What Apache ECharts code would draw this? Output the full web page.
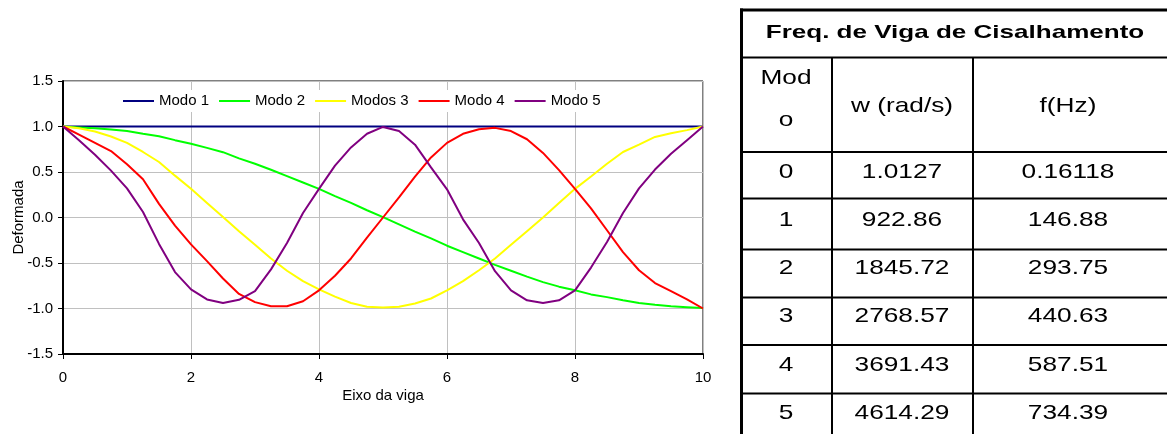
<!DOCTYPE html>
<html>
<head>
<meta charset="utf-8">
<script src="https://cdn.jsdelivr.net/npm/echarts@6/dist/echarts.min.js"></script>
<style>
  html, body { margin: 0; padding: 0; background: #fff; }
  #chart { width: 1167px; height: 434px; }
</style>
</head>
<body>
<div id="chart"></div>
<script>
// posicoes ao longo da viga
const xs = [0, 0.25, 0.5, 0.75, 1, 1.25, 1.5, 1.75, 2, 2.25, 2.5, 2.75, 3, 3.25, 3.5, 3.75, 4, 4.25, 4.5, 4.75,
  5, 5.25, 5.5, 5.75, 6, 6.25, 6.5, 6.75, 7, 7.25, 7.5, 7.75, 8, 8.25, 8.5, 8.75, 9, 9.25, 9.5, 9.75, 10]

const modo1 = [1, 1, 1, 1, 1, 1, 1, 1, 1, 1, 1, 1, 1, 1, 1, 1, 1, 1, 1, 1,
  1, 1, 1, 1, 1, 1, 1, 1, 1, 1, 1, 1, 1, 1, 1, 1, 1, 1, 1, 1, 1]
const modo2 = [1.0, 0.99, 0.98, 0.967, 0.95, 0.92, 0.893, 0.85, 0.81, 0.765, 0.718, 0.65, 0.59, 0.525, 0.455, 0.385, 0.315, 0.235, 0.16, 0.08,
  0.005, -0.075, -0.155, -0.23, -0.31, -0.38, -0.45, -0.52, -0.585, -0.65, -0.71, -0.76, -0.8, -0.845, -0.875, -0.91, -0.94, -0.96, -0.975, -0.985, -0.995]
const modo3 = [1.0, 0.98, 0.945, 0.89, 0.82, 0.72, 0.61, 0.46, 0.315, 0.16, 0.005, -0.15, -0.3, -0.45, -0.585, -0.7, -0.79, -0.87, -0.94, -0.98,
  -0.99, -0.98, -0.945, -0.89, -0.8, -0.7, -0.58, -0.45, -0.3, -0.15, 0.0, 0.16, 0.315, 0.45, 0.59, 0.72, 0.8, 0.885, 0.925, 0.96, 1.0]
const modo4 = [1.0, 0.91, 0.82, 0.73, 0.585, 0.42, 0.15, -0.09, -0.295, -0.48, -0.67, -0.84, -0.93, -0.975, -0.975, -0.92, -0.8, -0.64, -0.45, -0.22,
  0.0, 0.22, 0.45, 0.66, 0.82, 0.92, 0.97, 0.985, 0.95, 0.86, 0.71, 0.52, 0.315, 0.1, -0.14, -0.38, -0.58, -0.72, -0.81, -0.9, -1.0]
const modo5 = [1.0, 0.85, 0.69, 0.515, 0.32, 0.06, -0.29, -0.6, -0.79, -0.9, -0.94, -0.905, -0.81, -0.57, -0.28, 0.05, 0.315, 0.57, 0.77, 0.92,
  0.995, 0.95, 0.8, 0.55, 0.31, -0.02, -0.28, -0.59, -0.8, -0.91, -0.94, -0.91, -0.8, -0.55, -0.27, 0.05, 0.32, 0.527, 0.7, 0.85, 1.0]

const seriesNames = ['Modo 1', 'Modo 2', 'Modos 3', 'Modo 4', 'Modo 5']
const seriesColors = ['#000080', '#00ff00', '#ffff00', '#ff0000', '#800080']

// tabela de frequencias
const tableTitle = 'Freq. de Viga de Cisalhamento'
const tableHeader = ['w (rad/s)', 'f(Hz)']
const tableModos = ['0', '1', '2', '3', '4', '5']
const tableW = ['1.0127', '922.86', '1845.72', '2768.57', '3691.43', '4614.29']
const tableF = ['0.16118', '146.88', '293.75', '440.63', '587.51', '734.39']

const fontFamily = '"Liberation Sans", Arial, sans-serif'

function pairs (ys) {
  return xs.map(function (x, i) { return [x, ys[i]] })
}

function hLine (y, x1, x2, w) {
  return { type: 'line', shape: { x1: x1, y1: y, x2: x2, y2: y }, style: { stroke: '#000', lineWidth: w }, z: 10 }
}
function vLine (x, y1, y2, w) {
  return { type: 'line', shape: { x1: x, y1: y1, x2: x, y2: y2 }, style: { stroke: '#000', lineWidth: w }, z: 10 }
}
function cellText (txt, x, y, bold) {
  return {
    type: 'text',
    x: x,
    y: y,
    scaleX: bold ? 1.37 : 1.25,
    z: 10,
    style: {
      text: txt,
      font: (bold ? 'bold 19px ' : '21px ') + fontFamily,
      fill: '#000',
      align: 'center',
      verticalAlign: 'middle'
    }
  }
}

// desenho da tabela
const rowLines = [152, 198.5, 249.5, 297.5, 345, 393.5]
const colCenter = [786, 902, 1068]
const graphics = [
  vLine(741.5, 8.5, 434, 3),
  hLine(10, 740, 1167, 3),
  hLine(57.5, 741, 1167, 2),
  vLine(832, 57.5, 434, 2),
  vLine(973, 57.5, 434, 2),
  cellText(tableTitle, 955, 33, true),
  cellText('Mod', colCenter[0], 78, false),
  cellText('o', colCenter[0], 120, false),
  cellText(tableHeader[0], colCenter[1], 106, false),
  cellText(tableHeader[1], colCenter[2], 106, false)
]
rowLines.forEach(function (y) { graphics.push(hLine(y, 741, 1167, 2)) })
tableModos.forEach(function (m, i) {
  const y = 172 + i * 48.2
  graphics.push(cellText(m, colCenter[0], y, false))
  graphics.push(cellText(tableW[i], colCenter[1], y, false))
  graphics.push(cellText(tableF[i], colCenter[2], y, false))
})

const allData = [modo1, modo2, modo3, modo4, modo5]

const option = {
  animation: false,
  textStyle: { fontFamily: fontFamily },
  grid: {
    left: 63,
    right: 464,
    top: 81,
    bottom: 80,
    outerBoundsMode: 'none',
    show: true,
    borderColor: '#000',
    borderWidth: 1
  },
  legend: {
    data: seriesNames,
    top: 90,
    left: 119,
    padding: [3, 4, 3, 4],
    backgroundColor: '#fff',
    icon: 'rect',
    itemWidth: 31,
    itemHeight: 2,
    itemGap: 10,
    selectedMode: false,
    textStyle: { fontSize: 15, color: '#000', fontFamily: fontFamily, lineHeight: 16 }
  },
  xAxis: {
    type: 'value',
    min: 0,
    max: 10,
    interval: 2,
    name: 'Eixo da viga',
    nameLocation: 'middle',
    nameGap: 34,
    nameMoveOverlap: false,
    nameTextStyle: { fontSize: 15, color: '#000' },
    axisLine: { onZero: false, lineStyle: { color: '#000', width: 2 } },
    axisTick: { length: 5, lineStyle: { color: '#000', width: 1 } },
    axisLabel: { fontSize: 15, color: '#000', margin: 16 },
    splitLine: { show: true, lineStyle: { color: '#c0c0c0', width: 1 } }
  },
  yAxis: {
    type: 'value',
    min: -1.5,
    max: 1.5,
    interval: 0.5,
    name: 'Deformada',
    nameLocation: 'middle',
    nameGap: 37,
    nameMoveOverlap: false,
    nameTextStyle: { fontSize: 15, color: '#000' },
    axisLine: { show: true, onZero: false, lineStyle: { color: '#000', width: 2 } },
    axisTick: { show: true, length: 5, lineStyle: { color: '#000', width: 1 } },
    axisLabel: {
      fontSize: 15,
      color: '#000',
      margin: 10,
      formatter: function (v) { return v.toFixed(1) }
    },
    splitLine: { show: true, lineStyle: { color: '#c0c0c0', width: 1 } }
  },
  series: seriesNames.map(function (name, i) {
    return {
      name: name,
      type: 'line',
      data: pairs(allData[i]),
      symbol: 'none',
      color: seriesColors[i],
      lineStyle: { color: seriesColors[i], width: 2 }
    }
  }),
  graphic: graphics
}

const myChart = echarts.init(document.getElementById('chart'))
myChart.setOption(option)
window.addEventListener('resize', function () {
  myChart.resize()
})
</script>
</body>
</html>
